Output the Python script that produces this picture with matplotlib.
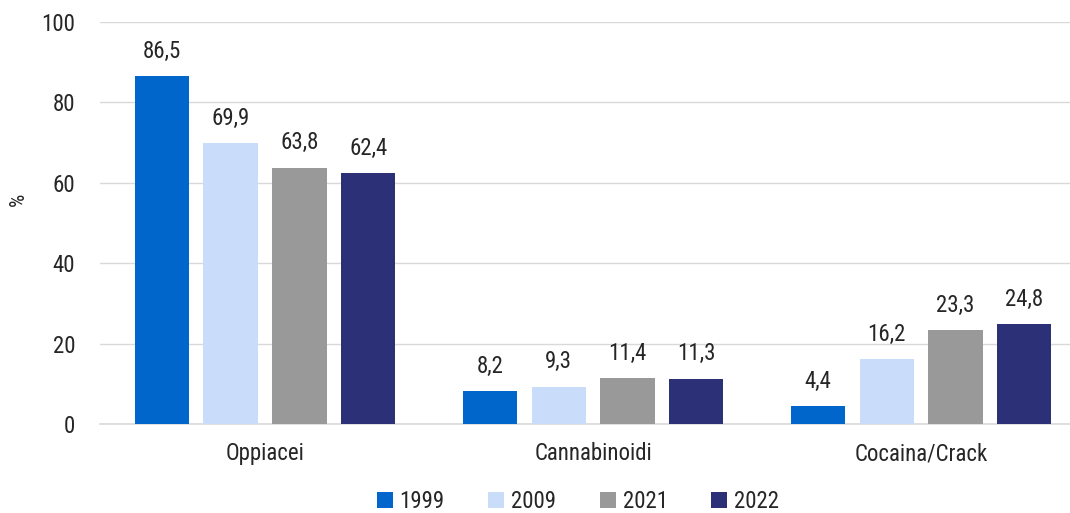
import numpy as np
import matplotlib
matplotlib.use("Agg")
import matplotlib.pyplot as plt
from matplotlib import font_manager

names = {f.name for f in font_manager.fontManager.ttflist}
fam = "Roboto"
for cand in ["Roboto Condensed", "Liberation Sans Narrow", "Open Sans Condensed"]:
    if cand in names:
        fam = cand
        break
plt.rcParams["font.family"] = [fam, "DejaVu Sans"]

categories = ["Oppiacei", "Cannabinoidi", "Cocaina/Crack"]
years = ["1999", "2009", "2021", "2022"]
values = {
    "1999": [86.5, 8.2, 4.4],
    "2009": [69.9, 9.3, 16.2],
    "2021": [63.8, 11.4, 23.3],
    "2022": [62.4, 11.3, 24.8],
}
colors = ["#0066CC", "#C9DDFA", "#999999", "#2B3077"]

fig = plt.figure(figsize=(10.70, 5.13), dpi=100)
ax = fig.add_axes([100 / 1070, 89 / 513, 970 / 1070, 402 / 513])

x = np.arange(len(categories))
step = 0.21
width = 0.165
for i, (yr, c) in enumerate(zip(years, colors)):
    pos = x + (i - 1.5) * step
    bars = ax.bar(pos, values[yr], width=width, color=c, label=yr, zorder=3)
    for b, v in zip(bars, values[yr]):
        ax.text(b.get_x() + b.get_width() / 2, v + 3.3, f"{v:.1f}".replace(".", ","),
                ha="center", va="bottom", fontsize=16.5, color="#262626")

ax.set_xlim(-0.503, 2.454)
ax.set_ylim(0, 100)
ax.set_yticks(range(0, 101, 20))
ax.set_xticks(x)
ax.set_xticklabels(categories)
ax.tick_params(axis="both", length=0, labelsize=16.5, colors="#262626")
ax.tick_params(axis="x", pad=13)
ax.tick_params(axis="y", pad=18)
ax.grid(axis="y", color="#D9D9D9", linewidth=1, zorder=0)
for s in ["top", "right", "left"]:
    ax.spines[s].set_visible(False)
ax.spines["bottom"].set_color("#D9D9D9")
ax.spines["bottom"].set_linewidth(1.2)
ax.set_ylabel("%", fontsize=15, color="#262626")
ax.yaxis.set_label_coords(-0.074, 0.56)

ax.legend(loc="center", bbox_to_anchor=(478 / 970, -0.193), ncol=4, frameon=False,
          fontsize=16.5, handlelength=0.7, handleheight=0.7, handletextpad=0.3,
          columnspacing=1.9, labelcolor="#262626")

fig.savefig("out.png", dpi=100)
